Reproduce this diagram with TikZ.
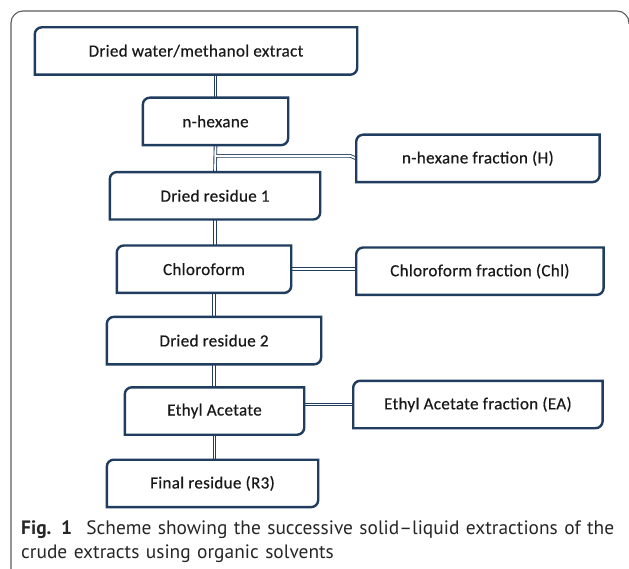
\documentclass[tikz,border=0pt]{standalone}
\usepackage{fontspec}
\setmainfont{Carlito}[FakeBold=0.6, LetterSpace=2]
\newfontfamily\capfont{PT Sans}
\usetikzlibrary{positioning, calc}
\definecolor{boxnavy}{HTML}{203C5E}
\definecolor{framegray}{HTML}{5A5A5A}
\tikzset{
box/.style={minimum height=47pt, inner sep=0pt, text=black!90, font=\fontsize{17}{20}\selectfont}, % the boxes, outline drawn later
boxline/.style={draw=boxnavy, line width=2.4pt}, % outline of a box
dbl/.style={draw=boxnavy, line width=0.9pt, double=white, double distance=1.8pt}, % double connectors
}
% outline with two rounded corners (top left, bottom right)
\newcommand{\snipbox}[1]{%
  \draw[boxline] ([xshift=7pt]#1.north west) -- (#1.north east) -- ([yshift=7pt]#1.south east)
    arc[start angle=0, end angle=-90, radius=7pt] -- (#1.south west) -- ([yshift=-7pt]#1.north west)
    arc[start angle=180, end angle=90, radius=7pt] -- cycle;}

\begin{document}
\begin{tikzpicture}[x=1pt, y=-1pt]
        \useasboundingbox (0,0) rectangle (629,569);
        % frame of the figure
        \draw[framegray, line width=1.1pt] (11,569) -- (11,23) arc[start angle=180, end angle=90, radius=12pt] -- (617,11) arc[start angle=90, end angle=0, radius=12pt] -- (629,24);
        % main column
        \node[box, minimum width=322pt] (top) at (196,51) {Dried water/methanol extract};
        \node[box, minimum width=145pt, below=23pt of top, xshift=19.5pt] (hex) {n-hexane};
        \node[box, minimum width=210pt, below=27pt of hex, xshift=-0.5pt] (res1) {Dried residue 1};
        \node[box, minimum width=174pt, below=26pt of res1, xshift=-11pt] (chl) {Chloroform};
        \node[box, minimum width=214pt, below=24pt of chl, xshift=10pt] (res2) {Dried residue 2};
        \node[box, minimum width=179pt, below=23pt of res2, xshift=0.5pt] (ea) {Ethyl Acetate};
        \node[box, minimum width=211pt, below=25pt of ea, xshift=-2pt] (r3) {Final residue (R3)};
        % fractions
        \node[box, minimum width=243pt, right=68pt of hex, yshift=-37pt] (hfrac) {n-hexane fraction (H)};
        \node[box, minimum width=247pt, right=65pt of chl, yshift=-2pt] (chlfrac) {Chloroform fraction (Chl)};
        \node[box, minimum width=249pt, right=49pt of ea, yshift=6.5pt] (eafrac) {Ethyl Acetate fraction (EA)};
        \coordinate (hexjoin) at ($(hex.south)!0.4!(res1.north)$);
        % connectors
        \draw[dbl] (hex.north) -- (hex.north |- top.south);
        \draw[dbl] (hex.south) -- (res1.north)
              (hexjoin) -- ([xshift=-6pt]hexjoin -| hfrac.west) -- (hfrac.west);
        \draw[dbl] (res1.south) -- (res1.south |- chl.north);
        \draw[dbl] (res2.north) -- (res2.north |- chl.south);
        \draw[dbl] (res2.south) -- (res2.south |- ea.north);
        \draw[dbl] (ea.south) -- (ea.south |- r3.north);
        \draw[dbl] (chl.east) -- (chl.east -| chlfrac.west);
        \draw[dbl] (eafrac.west) -- (eafrac.west -| ea.east);
        % outlines
        \foreach \b in {top, hex, res1, chl, res2, ea, r3, hfrac, chlfrac, eafrac}
          \snipbox{\b};
        % caption
        \node[anchor=north west, inner sep=0pt, text width=620pt, align=left, text=black!85,
              font=\capfont\fontsize{19.4}{24.5}\selectfont] (caption) at (21,520)
          {\textbf{Fig. 1}\hspace{0.4em} Scheme showing the successive solid–liquid extractions of the\\crude extracts using organic solvents};
\end{tikzpicture}
\end{document}
